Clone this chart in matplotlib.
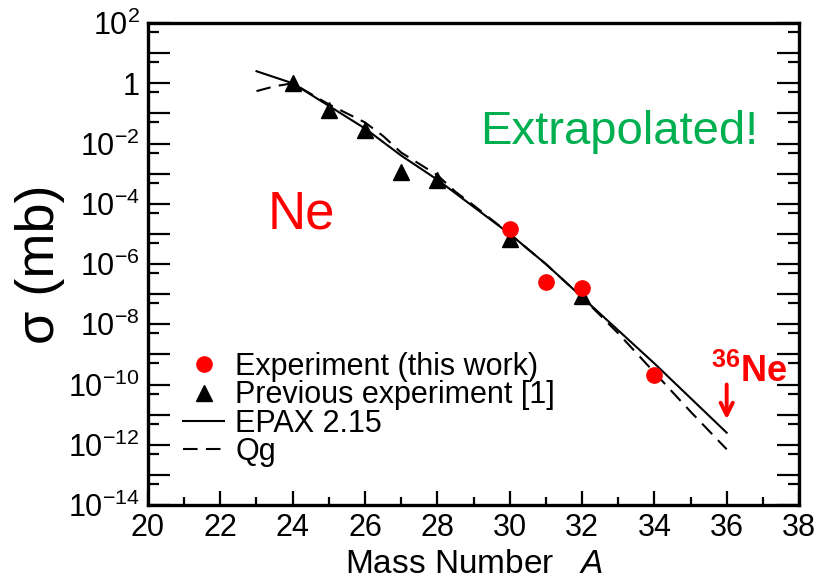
import numpy as np
import matplotlib
matplotlib.use('Agg')
import matplotlib.pyplot as plt
from matplotlib.ticker import FixedLocator, FuncFormatter

plt.rcParams['font.family'] = ['Liberation Sans', 'DejaVu Sans']
plt.rcParams['mathtext.fontset'] = 'custom'
plt.rcParams['mathtext.rm'] = 'Liberation Sans'
plt.rcParams['mathtext.it'] = 'Liberation Sans:italic'
plt.rcParams['mathtext.bf'] = 'Liberation Sans:bold'

# data
A_this = [30, 31, 32, 34]
sig_this = [1.4e-5, 2.5e-7, 1.6e-7, 2.0e-10]

A_prev = [24, 25, 26, 27, 28, 30, 32]
sig_prev = [1.0, 0.13, 0.028, 1.1e-3, 6.0e-4, 7.0e-6, 8.5e-8]

A_epax = [23, 24, 25, 26, 27, 28, 29, 30, 31, 32, 33, 34, 35, 36]
log_epax = [0.40, 0.0, -0.75, -1.5, -2.4, -3.2, -4.1, -5.0, -6.0, -7.1, -8.2, -9.3, -10.45, -11.6]

A_qg = [23, 23.5, 24, 25, 26, 26.5, 27, 28, 28.5, 29, 30, 31, 32, 33, 34, 35, 36]
log_qg = [-0.26, -0.1, 0.0, -0.7, -1.3, -1.75, -2.3, -3.05, -3.6, -4.05, -5.0, -6.0, -7.1, -8.3, -9.6, -10.9, -12.15]

x_ticks = list(range(20, 39, 2))
y_major = [10.0**k for k in range(-14, 3)]
y_minor = [5 * 10.0**k for k in range(-15, 2)]

fig = plt.figure(figsize=(8.19, 5.83), dpi=100)
ax = fig.add_axes([0.1807, 0.1338, 0.7949, 0.8267])

ax.plot(A_epax, 10.0**np.array(log_epax), '-', color='black', lw=1.5, label='EPAX 2.15')
ax.plot(A_qg, 10.0**np.array(log_qg), color='black', lw=1.5, ls=(0, (7, 4)), label='Qg')
ax.plot(A_prev, sig_prev, '^', color='black', ms=11, label='Previous experiment [1]')
ax.plot(A_this, sig_this, 'o', color='red', ms=11, label='Experiment (this work)')

ax.set_yscale('log')
ax.set_xlim(20, 38)
ax.set_ylim(1e-14, 1e2)

ax.xaxis.set_major_locator(FixedLocator(x_ticks))
ax.xaxis.set_minor_locator(FixedLocator(list(range(21, 38, 2))))
ax.yaxis.set_major_locator(FixedLocator(y_major))
ax.yaxis.set_minor_locator(FixedLocator(y_minor))


def ylab(v, pos):
    k = int(round(np.log10(v)))
    if k % 2:
        return ''
    if k == 0:
        return '1'
    return r'$10^{%d}$' % k


ax.yaxis.set_major_formatter(FuncFormatter(ylab))
ax.yaxis.set_minor_formatter(FuncFormatter(lambda v, p: ''))

ax.tick_params(axis='both', which='both', direction='in', width=1.6, colors='black', labelsize=22)
ax.tick_params(axis='x', which='major', length=10, pad=6)
ax.tick_params(axis='x', which='minor', length=6)
ax.tick_params(axis='y', which='major', length=16, pad=6, right=True)
ax.tick_params(axis='y', which='minor', length=8, right=True)
for s in ax.spines.values():
    s.set_linewidth(2.4)

ax.set_xlabel(r'Mass Number   $\mathit{A}$', fontsize=24, labelpad=4)
ax.set_ylabel(r'σ (mb)', fontsize=39, labelpad=2)

ax.text(24.25, 1.5e-5, 'Ne', color='red', fontsize=38, ha='center', va='baseline')
ax.text(29.17, 1.0e-2, 'Extrapolated!', color='#00B050', fontsize=34, ha='left', va='baseline')
ax.text(36.63, 2.6e-10, r'$\mathbf{^{36}Ne}$', color='red', fontsize=26, ha='center', va='center')
ax.annotate('', xy=(36, 7e-12), xytext=(36, 1.0e-10),
            arrowprops=dict(arrowstyle='->', color='red', lw=2.8, mutation_scale=22,
                            shrinkA=0, shrinkB=0))

h, l = ax.get_legend_handles_labels()
order = [3, 2, 0, 1]
ax.legend([h[i] for i in order], [l[i] for i in order], loc='upper left',
          bbox_to_anchor=(0.054, 0.318), frameon=False, fontsize=22,
          borderpad=0, borderaxespad=0, labelspacing=-0.05,
          handlelength=1.35, handletextpad=0.35)

fig.savefig('out.png', dpi=100)
